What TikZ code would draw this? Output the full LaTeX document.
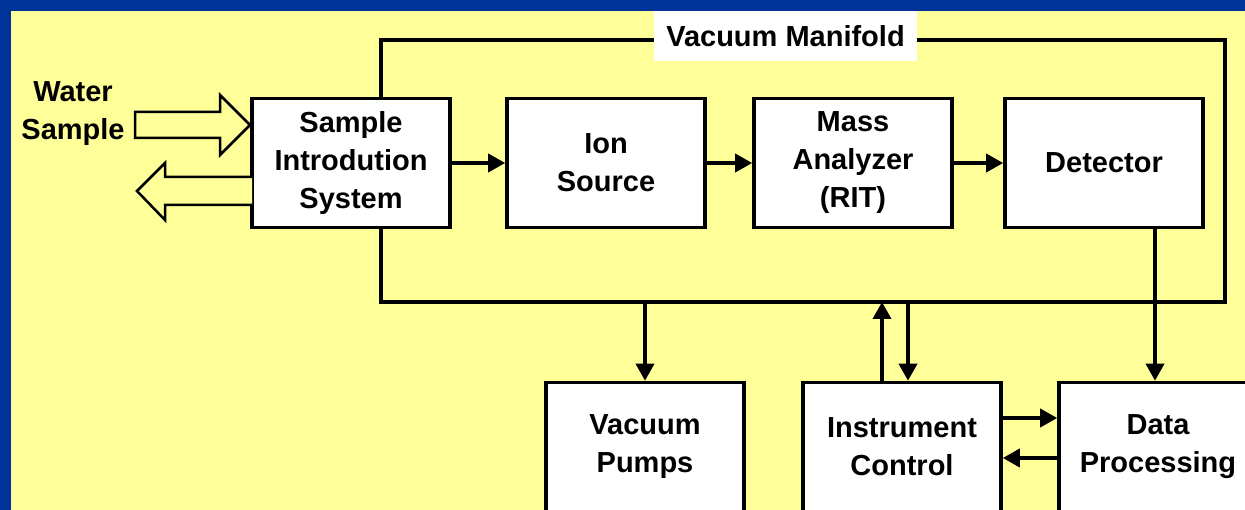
\documentclass[tikz,border=0pt]{standalone}
\usepackage{fontspec}
\setmainfont{Liberation Sans}
\usetikzlibrary{arrows.meta}

\definecolor{slideblue}{RGB}{0,51,153}
\definecolor{slideyellow}{RGB}{255,255,153}

\tikzset{
	box/.style={draw=black, fill=white, line width=3.6pt, minimum width=198pt, minimum height=129pt,
		inner sep=0pt, align=center, font=\fontsize{29}{38}\selectfont\bfseries},
	flow/.style={line width=3.6pt, -{Triangle[length=17pt,width=18pt]}},
	hollow/.style={draw=black, fill=slideyellow, line width=2.5pt, line join=miter},
	label/.style={fill=white, inner sep=0pt, minimum width=263pt, minimum height=50pt,
		font=\fontsize{29}{38}\selectfont\bfseries},
}

\begin{document}
\begin{tikzpicture}[x=1pt, y=-1pt]
				\clip (0,0) rectangle (1245,510);
				\fill[slideblue] (0,0) rectangle (1245,510);
				\fill[slideyellow] (11,11) rectangle (1245,510);
				
				% manifold
				\coordinate (mtl) at (381,40);
				\coordinate (mbr) at (1225,302);
				\draw[line width=3.8pt] (mtl) rectangle (mbr);
				\node[label] (manifold) at (785.5,36) {Vacuum Manifold};
				
				\node[box] (intro) at (351,163) {Sample\\Introdution\\System};
				\node[box] (ion) at (606,163) {Ion\\Source};
				\node[box] (mass) at (853,163) {Mass\\Analyzer\\(RIT)};
				\node[box] (det) at (1104,163) {Detector};
				
				\node[box] (pumps) at (645,447) {Vacuum\\Pumps};
				\node[box] (ctrl) at (902,447) {Instrument\\Control};
				\node[box] (data) at (1158,447) {Data\\Processing};
				
				\draw[flow] (intro) -- (ion);
				\draw[flow] (ion) -- (mass);
				\draw[flow] (mass) -- (det);
				
				\draw[flow] (pumps.north |- mbr) -- (pumps.north);
				\draw[flow] ([xshift=-20pt]ctrl.north) -- ([xshift=-20pt]ctrl.north |- mbr);
				\draw[flow] ([xshift=6pt]ctrl.north |- mbr) -- ([xshift=6pt]ctrl.north);
				\draw[flow] ([xshift=51pt]det.south) -- ([xshift=51pt]det.south |- data.north);
				\draw[flow] ([yshift=29pt]ctrl.east) -- ([yshift=29pt]ctrl.east -| data.west);
				\draw[flow] ([yshift=-11pt]data.west) -- ([yshift=-11pt]data.west -| ctrl.east);
				
				% water in and out
				\node[align=center, inner sep=0pt, font=\fontsize{29}{38}\selectfont\bfseries] (water) at (73,114) {Water\\Sample};
				\draw[hollow] (135,112) -- (220,112) -- (220,95) -- (250,125) -- (220,155) -- (220,138) -- (135,138) -- cycle;
				\draw[hollow] (252,177) -- (165,177) -- (165,163) -- (137,191) -- (165,220) -- (165,205) -- (252,205);
\end{tikzpicture}
\end{document}
